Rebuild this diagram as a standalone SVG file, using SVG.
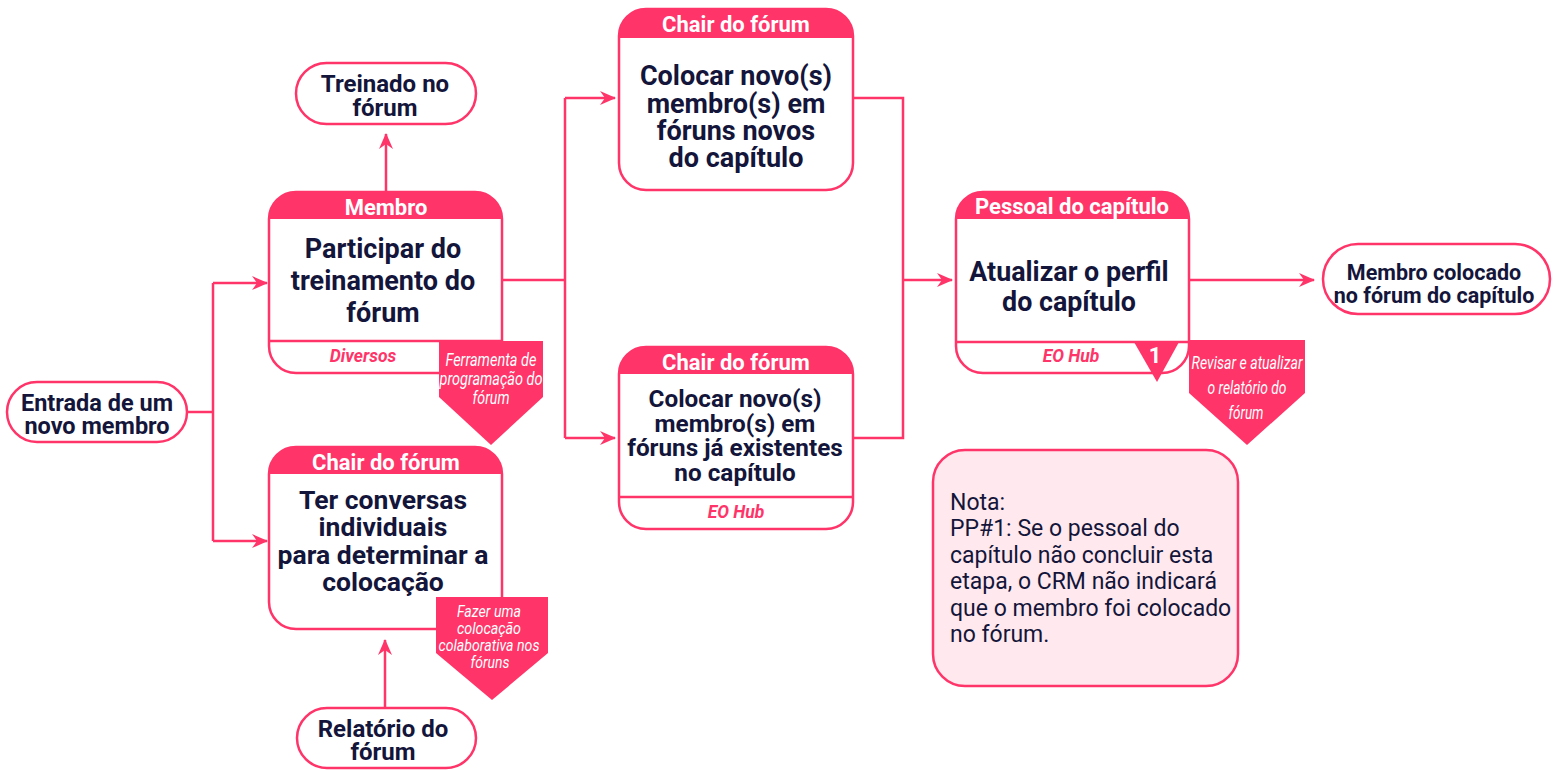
<svg xmlns="http://www.w3.org/2000/svg" width="1559" height="770" viewBox="0 0 1559 770">
<style>
.box{fill:#fff;stroke:#FF3469;stroke-width:2.5}
.hdr{fill:#FF3469}
.sep{stroke:#FF3469;stroke-width:2.5;fill:none}
.ht{font-family:Roboto,"Liberation Sans",sans-serif;font-weight:700;font-size:22px;fill:#fff;text-anchor:middle}
.bt{font-family:Roboto,"Liberation Sans",sans-serif;font-weight:700;fill:#14153A;text-anchor:middle}
.ft{font-family:Roboto,"Liberation Sans",sans-serif;font-weight:700;font-style:italic;font-size:17.5px;fill:#FF3469;text-anchor:middle}
.pt{font-family:Roboto,"Liberation Sans",sans-serif;font-weight:400;font-style:italic;fill:#fff;text-anchor:middle}
.pent{fill:#FF3469}
.con{fill:none;stroke:#FF3469;stroke-width:2.5}
.nt{font-family:Roboto,"Liberation Sans",sans-serif;font-size:23px;fill:#14153A}
</style>
<defs>
<marker id="arr" viewBox="0 0 16 14" refX="15" refY="7" markerWidth="16" markerHeight="14" markerUnits="userSpaceOnUse" orient="auto">
<path d="M0,0 L16,7 L0,14 L5,7 z" fill="#FF3469"/>
</marker>
</defs>

<g id="connectors">
<path class="con" d="M187,412 H213 M213,283 V541"/>
<path class="con" d="M213,283 H267" marker-end="url(#arr)"/>
<path class="con" d="M213,541 H267" marker-end="url(#arr)"/>
<path class="con" d="M386,192 V134" marker-end="url(#arr)"/>
<path class="con" d="M385,708 V640" marker-end="url(#arr)"/>
<path class="con" d="M502,280 H565 M565,98 V438"/>
<path class="con" d="M565,98 H615" marker-end="url(#arr)"/>
<path class="con" d="M565,438 H615" marker-end="url(#arr)"/>
<path class="con" d="M853,98 H903 V438 H853"/>
<path class="con" d="M903,280 H952" marker-end="url(#arr)"/>
<path class="con" d="M1189,280 H1314" marker-end="url(#arr)"/>
</g>

<g id="entrada">
<rect class="box" x="7" y="382" width="180" height="60" rx="30"/>
<text class="bt" font-size="23.5" x="97" y="410.5">Entrada de um</text>
<text class="bt" font-size="23.5" x="97" y="433.5">novo membro</text>
</g>

<g id="treinado">
<rect class="box" x="296" y="63" width="180" height="61" rx="30.5"/>
<text class="bt" font-size="24" x="385" y="91.5">Treinado no</text>
<text class="bt" font-size="24" x="385" y="115.5">fórum</text>
</g>

<g id="relatorio">
<rect class="box" x="297" y="708" width="179" height="60" rx="30"/>
<text class="bt" font-size="24" x="383" y="737">Relatório do</text>
<text class="bt" font-size="24" x="383" y="760">fórum</text>
</g>

<g id="membro">
<rect class="box" x="269" y="192" width="233" height="181" rx="27"/>
<path class="hdr" d="M269,219 A27,27 0 0 1 296,192 H475 A27,27 0 0 1 502,219 Z"/>
<line class="sep" x1="269" y1="341" x2="502" y2="341"/>
<text class="ht" x="386" y="215">Membro</text>
<text class="bt" font-size="27" x="383" y="257.5">Participar do</text>
<text class="bt" font-size="27" x="383" y="289.5">treinamento do</text>
<text class="bt" font-size="27" x="383" y="321.5">fórum</text>
<text class="ft" x="363" y="362">Diversos</text>
</g>

<g id="ferramenta">
<path class="pent" d="M439,341 H543 V397 L491,445 L439,397 Z"/>
<text class="pt" font-size="18" x="491" y="366" textLength="91" lengthAdjust="spacingAndGlyphs">Ferramenta de</text>
<text class="pt" font-size="18" x="491" y="385" textLength="103" lengthAdjust="spacingAndGlyphs">programação do</text>
<text class="pt" font-size="18" x="491" y="404" textLength="37" lengthAdjust="spacingAndGlyphs">fórum</text>
</g>

<g id="conversas">
<rect class="box" x="269" y="447" width="233" height="182" rx="27"/>
<path class="hdr" d="M269,474 A27,27 0 0 1 296,447 H475 A27,27 0 0 1 502,474 Z"/>
<text class="ht" x="386" y="470">Chair do fórum</text>
<text class="bt" font-size="26.5" x="383" y="509">Ter conversas</text>
<text class="bt" font-size="26.5" x="383" y="536">individuais</text>
<text class="bt" font-size="26.5" x="383" y="564">para determinar a</text>
<text class="bt" font-size="26.5" x="383" y="591">colocação</text>
</g>

<g id="fazer">
<path class="pent" d="M436,597 H548 V653 L492,700 L436,653 Z"/>
<text class="pt" font-size="17" x="489" y="617" textLength="64" lengthAdjust="spacingAndGlyphs">Fazer uma</text>
<text class="pt" font-size="17" x="489" y="634" textLength="64" lengthAdjust="spacingAndGlyphs">colocação</text>
<text class="pt" font-size="17" x="489" y="651" textLength="101" lengthAdjust="spacingAndGlyphs">colaborativa nos</text>
<text class="pt" font-size="17" x="490" y="668" textLength="39" lengthAdjust="spacingAndGlyphs">fóruns</text>
</g>

<g id="chair-novos">
<rect class="box" x="619" y="9" width="234" height="181" rx="27"/>
<path class="hdr" d="M619,38 A27,27 0 0 1 646,9 H826 A27,27 0 0 1 853,38 Z"/>
<text class="ht" x="736" y="32">Chair do fórum</text>
<text class="bt" font-size="27" x="736" y="84.5">Colocar novo(s)</text>
<text class="bt" font-size="27" x="736" y="112.5">membro(s) em</text>
<text class="bt" font-size="27" x="736" y="139.5">fóruns novos</text>
<text class="bt" font-size="27" x="736" y="166.5">do capítulo</text>
</g>

<g id="chair-existentes">
<rect class="box" x="619" y="347" width="234" height="182" rx="27"/>
<path class="hdr" d="M619,374 A27,27 0 0 1 646,347 H826 A27,27 0 0 1 853,374 Z"/>
<line class="sep" x1="619" y1="497" x2="853" y2="497"/>
<text class="ht" x="736" y="370">Chair do fórum</text>
<text class="bt" font-size="24.3" x="735" y="406.5">Colocar novo(s)</text>
<text class="bt" font-size="24.3" x="735" y="431.5">membro(s) em</text>
<text class="bt" font-size="24.3" x="735" y="455.5">fóruns já existentes</text>
<text class="bt" font-size="24.3" x="735" y="480.5">no capítulo</text>
<text class="ft" x="736" y="518">EO Hub</text>
</g>

<g id="pessoal">
<rect class="box" x="956" y="192" width="233" height="181" rx="27"/>
<path class="hdr" d="M956,219 A27,27 0 0 1 983,192 H1162 A27,27 0 0 1 1189,219 Z"/>
<line class="sep" x1="956" y1="342" x2="1189" y2="342"/>
<text class="ht" x="1072" y="214">Pessoal do capítulo</text>
<text class="bt" font-size="26.8" x="1069" y="280.5">Atualizar o perfil</text>
<text class="bt" font-size="26.8" x="1069" y="310.5">do capítulo</text>
<text class="ft" x="1071" y="362">EO Hub</text>
<path class="pent" d="M1134,342 H1179 L1157,382 Z"/>
<text class="ht" x="1155" y="363">1</text>
</g>

<g id="revisar">
<path class="pent" d="M1189,340 H1305 V393 L1247,445 L1189,393 Z"/>
<text class="pt" font-size="18" x="1247" y="369" textLength="111" lengthAdjust="spacingAndGlyphs">Revisar e atualizar</text>
<text class="pt" font-size="18" x="1247" y="394" textLength="79" lengthAdjust="spacingAndGlyphs">o relatório do</text>
<text class="pt" font-size="18" x="1246" y="419" textLength="35" lengthAdjust="spacingAndGlyphs">fórum</text>
</g>

<g id="colocado">
<rect class="box" x="1323" y="244" width="227" height="70" rx="35"/>
<text class="bt" font-size="21.5" x="1434" y="280">Membro colocado</text>
<text class="bt" font-size="21.5" x="1434" y="303">no fórum do capítulo</text>
</g>

<g id="nota">
<rect x="933" y="450" width="305" height="236" rx="32" fill="#FFE9EE" stroke="#FF3469" stroke-width="2.5"/>
<text class="nt" x="950" y="510">Nota:</text>
<text class="nt" x="950" y="536">PP#1: Se o pessoal do</text>
<text class="nt" x="950" y="563">capítulo não concluir esta</text>
<text class="nt" x="950" y="589">etapa, o CRM não indicará</text>
<text class="nt" x="950" y="616">que o membro foi colocado</text>
<text class="nt" x="950" y="642">no fórum.</text>
</g>
</svg>
